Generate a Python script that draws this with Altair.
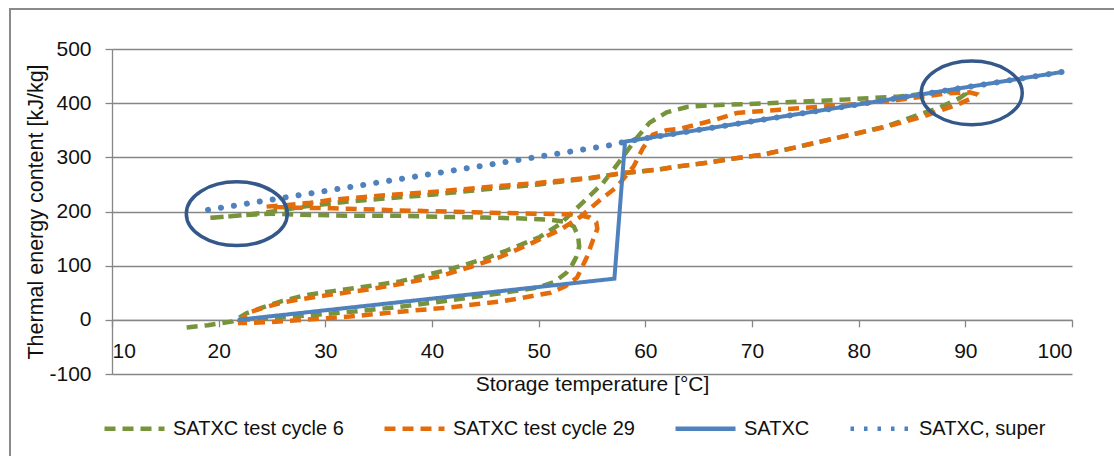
import altair as alt
import pandas as pd

FONT = "Liberation Sans"

series_names = ["SATXC test cycle 6", "SATXC test cycle 29", "SATXC", "SATXC, super"]
series_colors = ["#77933C", "#E46C0A", "#4F81BD", "#4F81BD"]

x_ticks = [10, 20, 30, 40, 50, 60, 70, 80, 90, 100]
y_ticks = [-100, 0, 100, 200, 300, 400, 500]

# SATXC test cycle 6 (path order)
cycle6_T = [17.0, 19.0, 21.3, 22.0, 22.6, 24.0, 26.0, 28.0, 30.7, 34.0, 37.0, 41.4, 45.0, 47.0, 50.1,
            52.0, 54.0, 56.0, 57.3, 58.3, 59.2, 60.4, 62.0, 63.9, 66.0, 69.0, 72.6, 76.0, 79.0, 83.6,
            86.4, 88.5, 89.6, 90.0,
            89.5, 88.8, 87.3, 85.7, 82.7, 80.0, 77.3, 74.0, 71.0, 68.0, 65.8, 63.0, 61.0, 58.0, 55.0,
            52.0, 50.0, 45.0, 40.0, 35.0, 32.0, 28.0, 25.5, 23.0, 21.0, 19.0,
            21.0, 23.0, 25.0, 27.6, 33.0, 37.0, 40.7, 45.0, 48.5, 51.0, 52.5, 53.3, 53.7, 53.8, 53.5,
            53.1, 52.6, 51.5, 50.0, 46.4, 41.7, 37.0, 33.0, 29.0, 25.0, 22.5, 21.5]
cycle6_E = [-14, -10, -3, 5, 12, 22, 35, 45, 53, 62, 71, 92, 113, 128, 153,
            177, 214, 252, 285, 312, 336, 364, 383, 393, 396, 398, 401, 404, 407, 412,
            418, 421, 421, 417,
            410, 403, 390, 379, 358, 345, 333, 318, 305, 297, 290, 283, 277, 271, 262,
            255, 250, 241, 231, 223, 218, 209, 201, 195, 191, 188,
            191, 194, 196, 194, 192, 192, 190, 189, 187, 185, 181, 172, 155, 135, 115,
            100, 87, 70, 60, 49, 36, 24, 16, 9, 3, 0, -1]

# SATXC test cycle 29 (path order)
cycle29_T = [21.8, 22.9, 24.5, 26.0, 28.0, 30.7, 34.0, 37.0, 40.8, 43.5, 46.4, 49.5, 52.0, 53.9, 55.8,
             57.3, 58.9, 59.8, 60.7, 62.0, 63.3, 66.3, 68.6, 72.6, 78.9, 83.6, 86.0, 88.3, 90.4, 91.0,
             90.7, 89.2, 86.0, 82.7, 80.0, 77.3, 74.0, 71.0, 68.0, 65.8, 63.0, 61.1, 57.9, 54.8, 52.0,
             50.1, 45.0, 40.7, 35.0, 30.7, 28.6, 26.5, 24.5,
             27.0, 30.7, 37.0, 43.0, 49.5, 52.5, 53.6, 54.8, 55.4, 55.5, 55.1, 54.5, 53.6, 52.5, 51.1,
             48.0, 46.4, 41.7, 37.0, 32.3, 28.0, 25.0, 22.9, 21.8]
cycle29_E = [-5, 14, 24, 32, 39, 47, 56, 66, 81, 97, 116, 143, 166, 190, 222,
             245, 283, 318, 342, 350, 353, 368, 382, 388, 397, 406, 412, 418, 420, 417,
             410, 397, 375, 357, 345, 333, 318, 305, 297, 290, 283, 277, 271, 262, 257,
             253, 245, 237, 229, 222, 216, 212, 209,
             207, 206, 202, 199, 196, 195, 194, 189, 180, 168, 148, 115, 78, 62, 50,
             39, 34, 23, 15, 6, 0, -4, -6, -6]

# SATXC (model, solid)
satxc_T = [21.8, 57.1, 58.1, 99.2]
satxc_E = [0, 76, 329, 458]

# SATXC, super (model, supercooled, dotted)
super_T = [19.0, 56.9, 58.1, 99.2]
super_E = [203, 323, 329, 458]

# highlighted regions (ellipse centres)
ellipse_T = [21.7, 90.6]
ellipse_E = [196, 419]


def frame(T, E, name):
    return pd.DataFrame({"T": T, "E": E, "series": name, "order": list(range(len(T)))})


df6 = frame(cycle6_T, cycle6_E, series_names[0])
df29 = frame(cycle29_T, cycle29_E, series_names[1])
dfm = frame(satxc_T, satxc_E, series_names[2])
dfs = frame(super_T, super_E, series_names[3])
dfe = pd.DataFrame({"T": ellipse_T, "E": ellipse_E})

xenc = alt.X("T:Q", scale=alt.Scale(domain=[10, 100], nice=False, zero=False),
             axis=alt.Axis(values=x_ticks, grid=False, offset=-54.17, tickSize=7, labelPadding=14,
                           labelFontSize=21, title="Storage temperature [°C]", titleFontSize=21,
                           titleFontWeight="normal", titlePadding=12))
yenc = alt.Y("E:Q", scale=alt.Scale(domain=[-100, 500], nice=False, zero=False),
             axis=alt.Axis(values=y_ticks, grid=True, tickSize=7, labelPadding=14,
                           labelExpr="'' + datum.value",
                           labelFontSize=21, title="Thermal energy content [kJ/kg]",
                           titleFontSize=21.5, titleFontWeight="normal", titlePadding=1))

legend = alt.Legend(title=None, orient="none", legendX=-10, legendY=347, direction="horizontal",
                    symbolType="stroke", symbolSize=3600, symbolStrokeWidth=4.5,
                    labelFontSize=20, labelFont=FONT, labelColor="#111111", labelOffset=6,
                    columnPadding=31, labelLimit=0)
color = alt.Color("series:N", scale=alt.Scale(domain=series_names, range=series_colors), legend=legend)
dash = alt.StrokeDash("series:N", scale=alt.Scale(domain=series_names,
                                                  range=[[11, 7], [11, 7], [1, 0], [3.5, 10]]),
                      legend=legend)
order = alt.Order("order:Q")

border = alt.Chart(pd.DataFrame({"a": [0]})).mark_rect(
    fillOpacity=0, stroke="#8a8a8a", strokeWidth=2
).encode(x=alt.value(-102), x2=alt.value(1130), y=alt.value(-40), y2=alt.value(440))

l6 = alt.Chart(df6).mark_line(strokeWidth=4.5).encode(x=xenc, y=yenc, color=color, strokeDash=dash, order=order)
l29 = alt.Chart(df29).mark_line(strokeWidth=4.5).encode(x=xenc, y=yenc, color=color, strokeDash=dash, order=order)
lm = alt.Chart(dfm).mark_line(strokeWidth=4).encode(x=xenc, y=yenc, color=color, strokeDash=dash, order=order)
ls = alt.Chart(dfs).mark_line(strokeWidth=6, strokeDash=[0.1, 13], strokeCap="round").encode(
    x=xenc, y=yenc, color=color, order=order)

ELLIPSE = ("M -1 0 C -1 -0.348 -0.552 -0.63 0 -0.63 C 0.552 -0.63 1 -0.348 1 0 "
           "C 1 0.348 0.552 0.63 0 0.63 C -0.552 0.63 -1 0.348 -1 0 Z")
ell = alt.Chart(dfe).mark_point(shape=ELLIPSE, size=10200, filled=False, stroke="#34588A",
                                color="#34588A", strokeWidth=3.5, opacity=1).encode(x=xenc, y=yenc)

chart = alt.layer(border, l6, l29, lm, ls, ell).properties(
    width=960, height=325,
    autosize=alt.AutoSizeParams(type="none"),
    padding={"left": 112, "top": 49, "right": 42, "bottom": 82},
    background="white",
).configure_view(stroke=None).configure_axis(
    domainColor="#868686", tickColor="#868686", gridColor="#868686", gridWidth=1.3,
    domainWidth=1.3, tickWidth=1.3, labelColor="#111111", titleColor="#111111",
    labelFont=FONT, titleFont=FONT
)

chart.save("out.html", embed_options={"renderer": "svg", "actions": False})
